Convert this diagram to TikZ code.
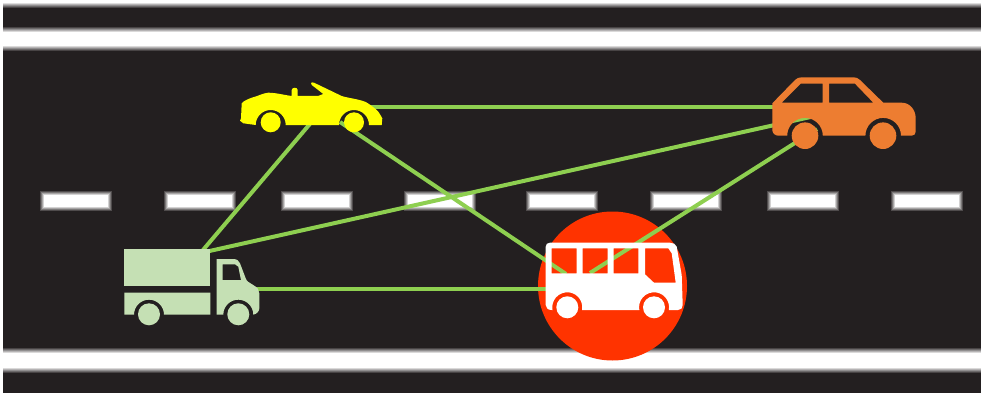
\documentclass[tikz,border=0pt]{standalone}
\usepackage{xcolor}
\usepackage{tikz}
\usetikzlibrary{positioning, calc}

\definecolor{roadblack}{HTML}{231F20}
\definecolor{linkgreen}{HTML}{8ECF50}
\definecolor{truckgreen}{HTML}{C5E0B4}
\definecolor{caryellow}{HTML}{FFFF00}
\definecolor{carorange}{HTML}{ED7D31}
\definecolor{busred}{HTML}{FF3300}

\tikzset{
  link/.style={draw=linkgreen, line width=4pt},
  wheel/.style={circle, inner sep=0pt, minimum size=#1}
}

\begin{document}
\begin{tikzpicture}[x=1pt, y=-1pt]
\useasboundingbox (0,0) rectangle (981,393);
% Road and its edge lines
\fill[white] (0,0) rectangle (981,393);
\fill[roadblack] (3,3) rectangle (981,393);
\foreach \grow/\fade in {3/0.167,2/0.2,1/0.25,0/0.333,-1/0.5,-2/1} {
  \fill[white, opacity=\fade] (3,3) rectangle (981,5+\grow);
  \fill[white, opacity=\fade] (3,30-\grow) rectangle (981,48+\grow);
  \fill[white, opacity=\fade] (3,350.5-\grow) rectangle (981,369.5+\grow);
}

% Centre dashes
\foreach \dashx in {42,166,283,406,528,652,769,893} {
  \foreach \grow/\fade in {2/0.2,1/0.25,0/0.333,-1/0.5,-2/1} {
    \fill[white, opacity=\fade] (\dashx-\grow,192.5-\grow) rectangle (\dashx+68+\grow,209+\grow);
  }
}

% Highlighted vehicle
\node[circle, fill=busred, inner sep=0pt, minimum size=149pt] (hazard) at (612.5,286) {};

% Link ends
\coordinate (truckRoof) at (203,250);
\coordinate (truckBack) at (205,252);
\coordinate (truckCab) at (250,289);
\coordinate (yellowRear) at (320,112);
\coordinate (yellowFront) at (340,122);
\coordinate (yellowTop) at (345,107);
\coordinate (orangeSide) at (790,107);
\coordinate (orangeTop) at (815,116);
\coordinate (orangeWheel) at (817,129);
\coordinate (busSide) at (560,289);
\coordinate (busWindow) at (566,274);
\coordinate (busRoof) at (590,273);

% Links
\draw[link] (truckRoof) -- (yellowRear);
\draw[link] (truckBack) -- (orangeTop);
\draw[link] (truckCab) -- (busSide);
\draw[link] (yellowTop) -- (orangeSide);
\draw[link] (yellowFront) -- (busWindow);
\draw[link] (busRoof) -- (orangeWheel);

% Truck
\fill[truckgreen] (124.3,249.3) rectangle (210.3,286.3);
\fill[truckgreen] (124.3,292.7) -- (210.3,292.7) -- (210.3,314.7) -- (164,314.7)
  arc[start angle=360, end angle=180, radius=15] -- (124.3,314.7) -- cycle;
\fill[truckgreen, even odd rule] (216.7,259) -- (233.3,259) .. controls (237,259) and (239,261) .. (240,263.3)
  -- (245.7,278.3) .. controls (246.5,280) and (247,281) .. (248,281.7) -- (254,285.5)
  .. controls (257.5,287.5) and (259.3,290) .. (259.3,293.3) -- (259.3,308.3)
  .. controls (259.3,311) and (257,314) .. (253.3,314.7)
  arc[start angle=360, end angle=180, radius=15] -- (216.7,314.7) -- cycle
  (222.7,264.3) -- (235,264.3) -- (238.3,266.7) -- (241,280) -- (222.7,280) -- cycle;
\node[wheel=22pt, fill=truckgreen] (truckWheelA) at (149,314.3) {};
\node[wheel=22pt, fill=truckgreen] (truckWheelB) at (238.3,314.3) {};

% Convertible
\fill[caryellow] (241.7,103.3) -- (241,118.3) -- (240,120.7) -- (243.3,123.3) -- (255.7,125)
  arc[start angle=180, end angle=360, radius=15] -- (339,125)
  arc[start angle=180, end angle=360, radius=15] -- (381.7,125) -- (382.3,118.3)
  .. controls (380,114) and (378,111) .. (376.7,110) .. controls (372,106) and (368,103) .. (365,101.7)
  .. controls (358,99) and (348,98) .. (341.7,96) -- (314,82.7) .. controls (311,81.5) and (310,84) .. (311.7,85)
  -- (323.3,94) -- (318,96) -- (297.7,96)
  -- (297.7,90) .. controls (297.5,87) and (292,87) .. (291.7,90) -- (291.7,96)
  .. controls (284,95) and (276,92.7) .. (268,92.7) .. controls (262,93.5) and (258,96) .. (255,96.7)
  .. controls (250,98) and (246,100) .. (243.3,101.7) -- cycle;
\node[wheel=20pt, fill=caryellow] (yellowWheelA) at (270.7,122.3) {};
\node[wheel=20pt, fill=caryellow] (yellowWheelB) at (354,122.3) {};

% Orange car
\fill[carorange, even odd rule] (772.3,103.3) -- (795,80) .. controls (797,78) and (799,77.3) .. (801.7,77.3)
  -- (853.3,77.3) .. controls (856,77.3) and (858,78) .. (860,80) -- (883.3,102.7) -- (901.7,102.7)
  .. controls (910,102.7) and (915.7,110) .. (915.7,118.3) -- (915.7,131.7) .. controls (915.7,134) and (914,135.7) .. (911.7,135.7)
  -- (901,135.7) arc[start angle=360, end angle=180, radius=17.8] -- (822.8,135.7)
  arc[start angle=360, end angle=180, radius=17.8] -- (778.3,135.7)
  .. controls (775,135.7) and (772.3,133) .. (772.3,130) -- cycle
  (781.7,102.7) -- (800.7,83.7) -- (822.7,83.7) -- (822.7,102.7) -- cycle
  (829,83.7) -- (855,83.7) -- (873.3,102.7) -- (829,102.7) -- cycle;
\node[wheel=26.6pt, fill=carorange] (orangeWheelA) at (805,135.7) {};
\node[wheel=26.6pt, fill=carorange] (orangeWheelB) at (883,135.7) {};

% Bus
\fill[white, even odd rule] (545.7,246.7) .. controls (545.7,244) and (547.5,242.7) .. (550,242.7) -- (670,242.7)
  .. controls (673,242.7) and (676,244) .. (676.7,246.7) -- (681.7,275) -- (682.7,305)
  .. controls (682.7,308) and (681,310) .. (678,310) -- (668.8,310)
  arc[start angle=10.5, end angle=169.5-360, radius=15] -- (582,310)
  arc[start angle=10.5, end angle=169.5-360, radius=15] -- (551.7,310)
  .. controls (548,310) and (545.7,308) .. (545.7,305) -- cycle
  (551.7,248.3) rectangle (576.7,273.3)
  (582.7,248.3) rectangle (607.7,273.3)
  (613.7,248.3) rectangle (638.3,273.3)
  (645,248.3) -- (668.3,248.3) -- (671.7,253.3) -- (675.7,282.7) -- (654,282.7) -- (645,274.3) -- cycle;
\node[wheel=22pt, fill=white] (busWheelA) at (567.3,307.3) {};
\node[wheel=22pt, fill=white] (busWheelB) at (654,307.3) {};
\end{tikzpicture}
\end{document}
